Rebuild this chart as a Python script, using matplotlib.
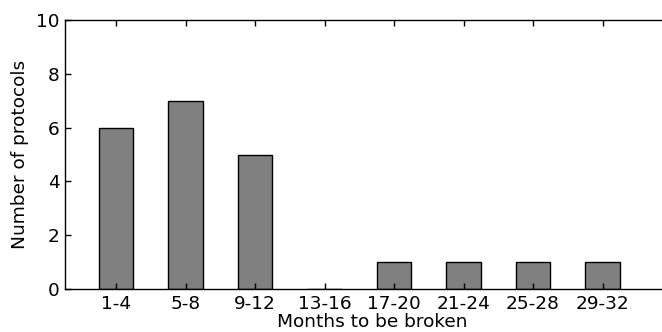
import matplotlib
matplotlib.use("Agg")
import matplotlib.pyplot as plt
import numpy as np

categories = ["1-4", "5-8", "9-12", "13-16", "17-20", "21-24", "25-28", "29-32"]
counts = [6, 7, 5, 0, 1, 1, 1, 1]

plt.rcParams['font.family'] = 'DejaVu Sans'
plt.rcParams['font.size'] = 13.3

fig = plt.figure(figsize=(6.62, 3.32), dpi=100)
# axes runs off the right edge of the figure, like the original crop
ax = fig.add_axes([65/662., 43/332., 615/662., 269/332.])

pos = np.arange(len(categories))
ax.bar(pos, counts, width=0.5, color='#808080', edgecolor='black', linewidth=1.0, zorder=1)

ax.set_xlim(-0.734, -0.734 + 615/69.5)
ax.set_ylim(0, 10)
ax.set_xticks(pos)
ax.set_xticklabels(categories)
ax.set_yticks([0, 2, 4, 6, 8, 10])

ax.tick_params(direction='in', length=4, width=1, top=True, right=True, pad=4)
for s in ax.spines.values():
    s.set_linewidth(1.0)
    s.set_zorder(3)
for t in ax.xaxis.get_major_ticks() + ax.yaxis.get_major_ticks():
    t.tick1line.set_zorder(3)
    t.tick2line.set_zorder(3)
ax.set_axisbelow(False)

ax.set_xlabel("Months to be broken", labelpad=0)
ax.set_ylabel("Number of protocols", labelpad=5)

plt.savefig("out.png", dpi=100)
